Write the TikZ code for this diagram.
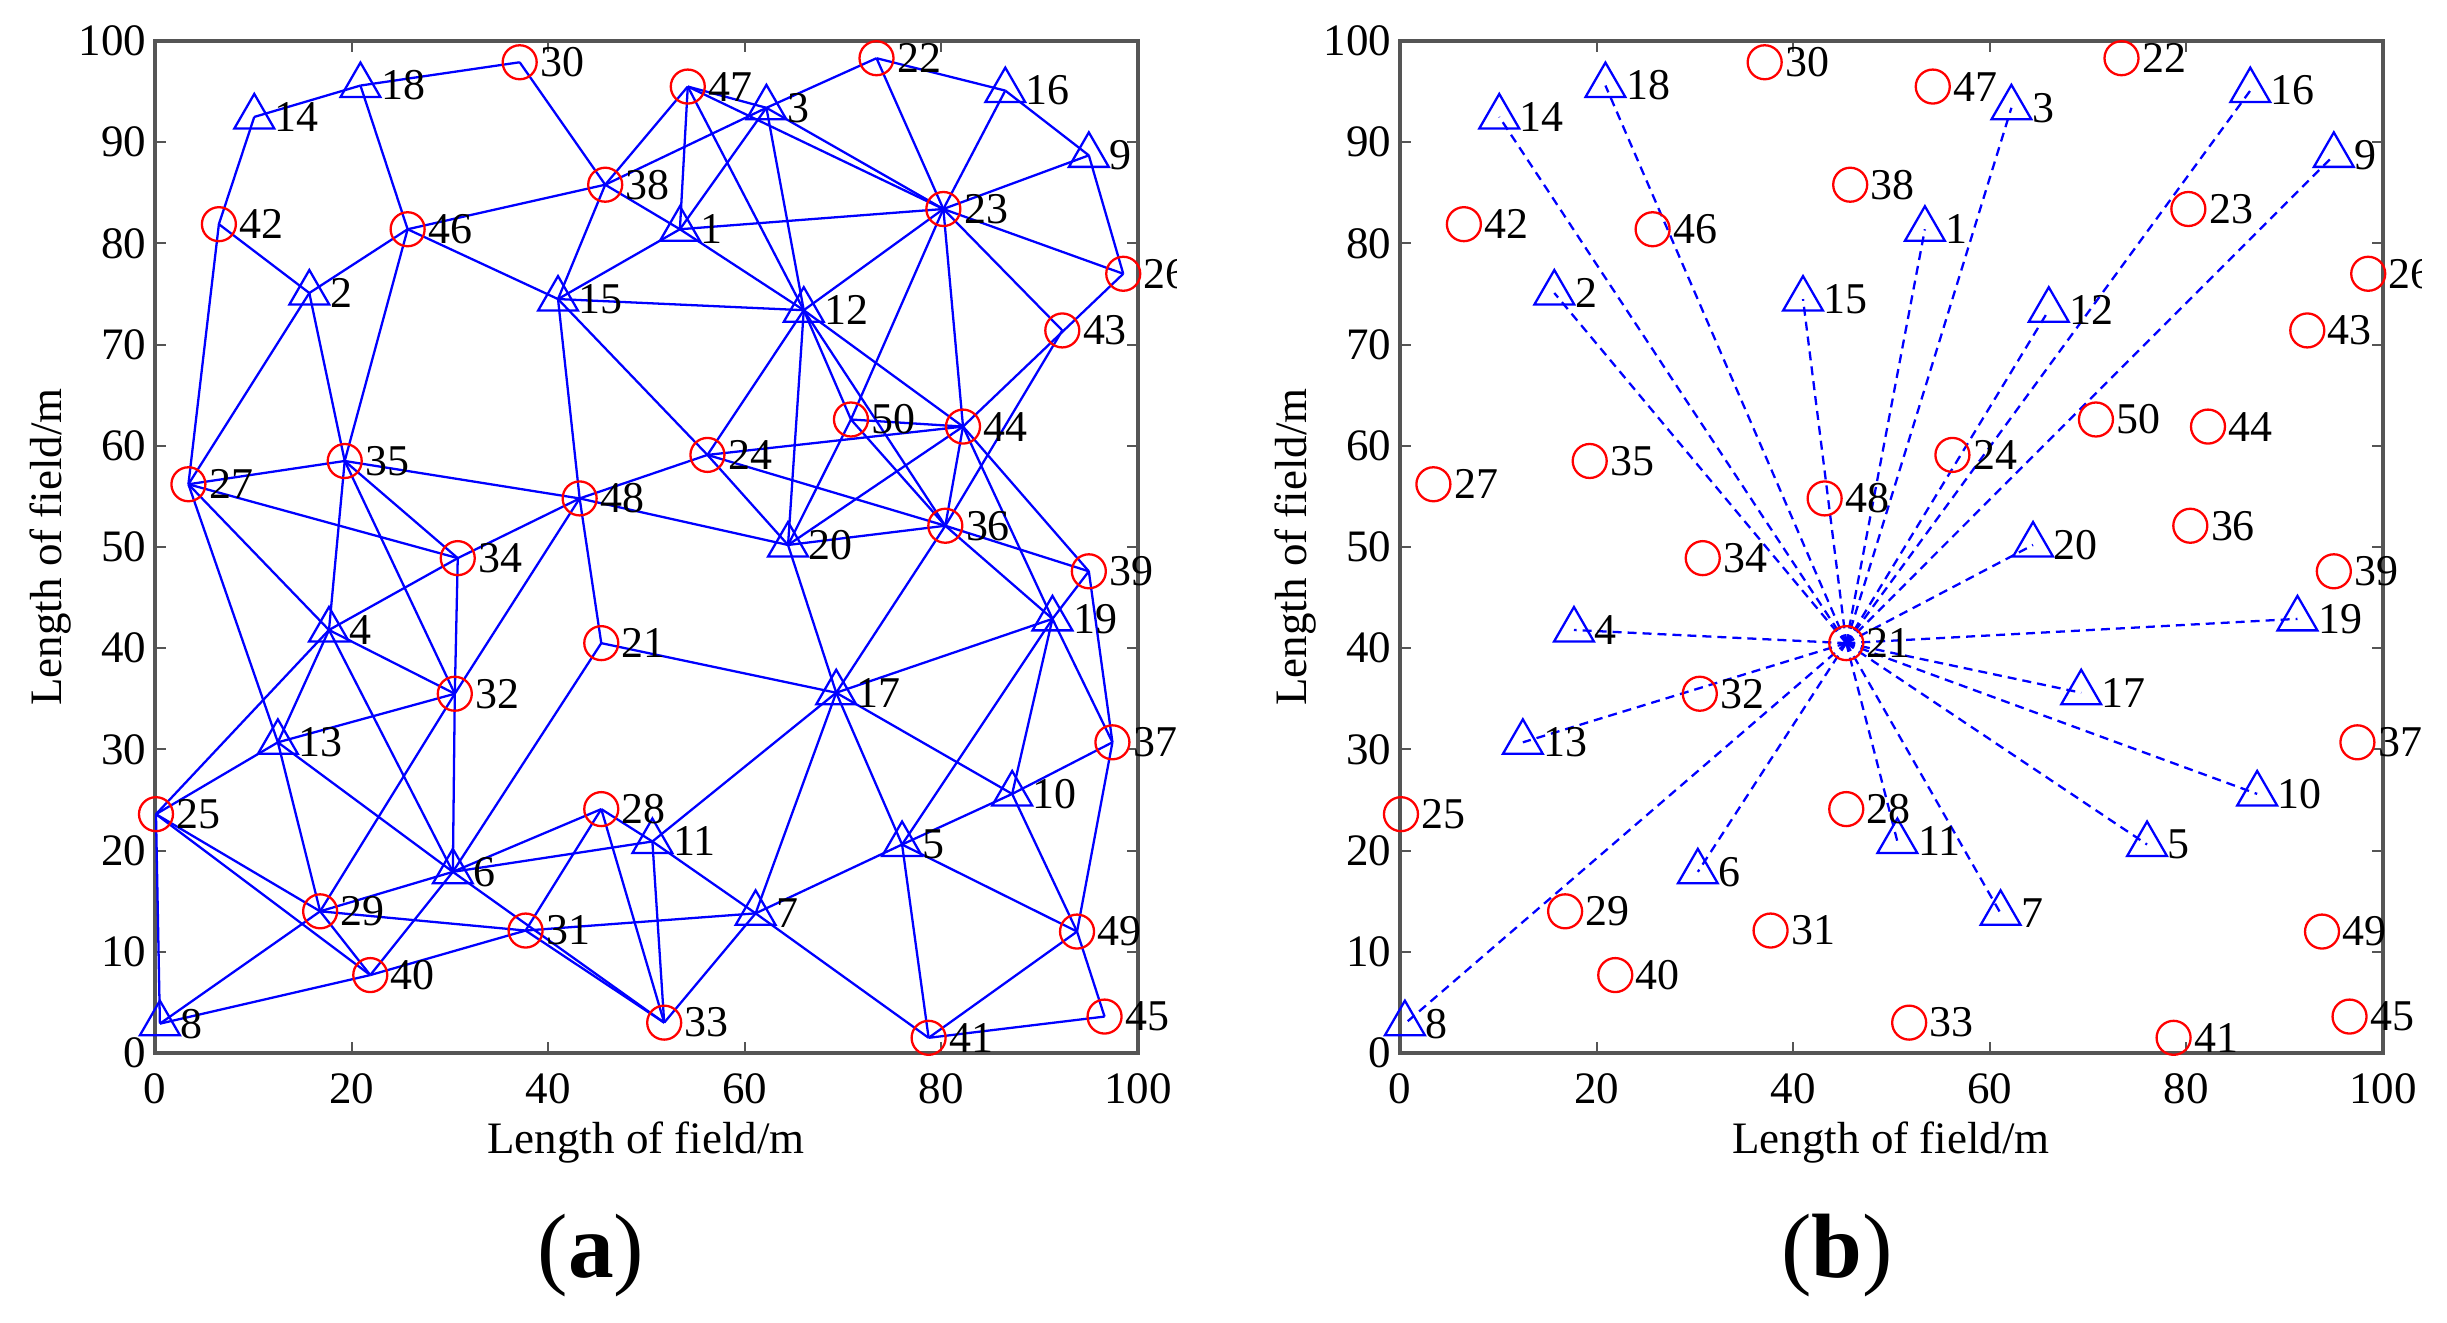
\documentclass[tikz,border=0pt]{standalone}
\usepackage{fontspec}
\setmainfont{Liberation Serif}
\usetikzlibrary{shapes.geometric}
\definecolor{axgray}{RGB}{85,85,85}
\def\tridata{1/53.4/81.4,2/15.7/75.1,3/62.2/93.4,4/17.7/41.8,5/76.0/20.6,6/30.3/17.9,7/61.1/13.8,8/0.5/2.9,9/95.0/88.7,10/87.2/25.6,11/50.6/20.9,12/66.0/73.4,13/12.5/30.7,14/10.1/92.5,15/41.0/74.5,16/86.5/95.1,17/69.3/35.6,18/20.9/95.6,19/91.3/42.9,20/64.4/50.2}
\def\cirdata{21/45.4/40.5,22/73.4/98.3,23/80.2/83.4,24/56.2/59.1,25/0.1/23.6,26/98.5/77.0,27/3.4/56.2,28/45.4/24.1,29/16.8/14.0,30/37.1/97.9,31/37.7/12.1,32/30.5/35.5,33/51.8/3.0,34/30.8/48.9,35/19.3/58.5,36/80.4/52.1,37/97.4/30.7,38/45.8/85.8,39/95.0/47.6,40/21.9/7.7,41/78.7/1.5,42/6.5/81.9,43/92.3/71.4,44/82.2/61.9,45/96.6/3.6,46/25.7/81.4,47/54.2/95.5,48/43.2/54.8,49/93.8/12.0,50/70.8/62.6}
\def\edgesA{14/18,18/30,14/42,18/46,30/38,42/2,42/27,46/38,46/2,46/15,46/35,2/27,2/35,38/47,38/3,38/1,38/15,47/1,47/12,47/3,47/23,3/1,3/12,3/22,3/23,1/15,1/23,1/12,15/12,15/48,15/24,22/16,22/23,16/23,16/9,9/23,9/26,23/26,23/43,23/12,23/50,23/44,26/44,43/36,12/24,12/20,12/50,12/36,12/44,50/44,24/44,50/20,50/36,44/20,44/36,44/39,44/19,24/36,24/20,48/24,48/20,20/36,20/17,36/17,36/19,36/39,21/17,17/19,17/11,17/7,17/5,17/10,19/39,19/5,19/10,19/37,39/37,27/35,27/34,27/4,27/13,35/48,35/34,35/4,35/32,34/48,34/4,34/32,48/21,48/32,4/32,4/13,4/25,4/6,32/13,32/6,32/29,21/6,25/13,25/8,25/29,25/40,29/13,29/6,29/31,29/40,29/8,40/8,40/31,40/6,6/13,6/28,6/11,6/33,31/28,31/7,31/33,28/11,28/33,11/7,11/33,7/5,7/33,7/41,5/10,5/49,5/41,10/37,10/49,37/49,49/45,49/41,41/45}
% #1 prefix, #2 x of axis origin in px, #3 same in mm
\newcommand\drawpanel[3]{%
  \draw[frame] (#2,41) rectangle ({#2+983},1053);
  \foreach \t in {20,40,60,80} {
    \draw[tickmark] ({#2+9.83*\t},1053) -- ++(0,-11);
    \draw[tickmark] ({#2+9.83*\t},41) -- ++(0,11);
  }
  \foreach \t in {10,20,...,90} {
    \draw[tickmark] (#2,{1053-10.12*\t}) -- ++(11,0);
    \draw[tickmark] ({#2+983},{1053-10.12*\t}) -- ++(-11,0);
  }
  \foreach \t in {0,20,...,100} {\node[ticklbl,anchor=north] (#1xt\t) at ({#2+9.83*\t},1073) {\t};}
  \foreach \t in {0,10,...,100} {\node[ticklbl,anchor=east] (#1yt\t) at ({#2-8},{1053-10.12*\t}) {\t};}
  \node[axlbl,anchor=base] (#1xl) at ({#2+491},1153) {Length of field/m};
  \node[axlbl,rotate=90,anchor=base] (#1yl) at ({#2-94},547) {Length of field/m};
}
\begin{document}
\begin{tikzpicture}[x=0.1mm,y=-0.1mm,
  frame/.style={draw=axgray,line width=1pt},
  tickmark/.style={draw=axgray,line width=0.6pt},
  edge/.style={draw=blue,line width=0.65pt},
  dashedge/.style={draw=blue,line width=0.65pt,dash pattern=on 0.9mm off 0.6mm},
  tri/.style={regular polygon,regular polygon sides=3,draw=blue,line width=0.65pt,minimum size=4.6mm,inner sep=0pt},
  cir/.style={circle,draw=red,line width=0.65pt,minimum size=3.4mm,inner sep=0pt},
  lbl/.style={font=\fontsize{12.5}{14}\selectfont,inner sep=0pt,anchor=west,xshift=2mm},
  ticklbl/.style={font=\fontsize{12.8}{14}\selectfont,inner sep=0pt},
  axlbl/.style={font=\fontsize{12.8}{14}\selectfont,inner sep=0pt},
  sublbl/.style={font=\fontsize{26}{30}\selectfont,inner sep=0pt}]
\useasboundingbox (0,0) rectangle (2447,1323);
\drawpanel{a}{155}{15.5}
\drawpanel{b}{1400}{140.0}
% panel (a) content
\begin{scope}
  \clip (0,0) rectangle (1176,1323);
  \begin{scope}[shift={(15.5mm,-105.3mm)},x=0.983mm,y=1.012mm]
    \foreach \n/\x/\y in \tridata {\coordinate (a\n) at (\x,\y);}
    \foreach \n/\x/\y in \cirdata {\coordinate (a\n) at (\x,\y);}
    \foreach \i/\j in \edgesA {\draw[edge] (a\i) -- (a\j);}
    \foreach \n/\x/\y in \tridata {\node[tri] (am\n) at (a\n) {};}
    \foreach \n/\x/\y in \cirdata {\node[cir] (am\n) at (a\n) {};}
    \foreach \n/\x/\y in \tridata {\node[lbl] (al\n) at (a\n) {\n};}
    \foreach \n/\x/\y in \cirdata {\node[lbl] (al\n) at (a\n) {\n};}
  \end{scope}
\end{scope}
% panel (b) content
\begin{scope}
  \clip (1250,0) rectangle (2421,1323);
  \begin{scope}[shift={(140.0mm,-105.3mm)},x=0.983mm,y=1.012mm]
    \foreach \n/\x/\y in \tridata {\coordinate (b\n) at (\x,\y);}
    \foreach \n/\x/\y in \cirdata {\coordinate (b\n) at (\x,\y);}
    \foreach \j in {1,...,20} {\draw[dashedge] (b21) -- (b\j);}
    \foreach \n/\x/\y in \tridata {\node[tri] (bm\n) at (b\n) {};}
    \foreach \n/\x/\y in \cirdata {\node[cir] (bm\n) at (b\n) {};}
    \foreach \n/\x/\y in \tridata {\node[lbl] (bl\n) at (b\n) {\n};}
    \foreach \n/\x/\y in \cirdata {\node[lbl] (bl\n) at (b\n) {\n};}
  \end{scope}
\end{scope}
\node[sublbl] (capa) at (591,1256) {(\textbf{a})};
\node[sublbl] (capb) at (1837,1256) {(\textbf{b})};
\end{tikzpicture}
\end{document}
